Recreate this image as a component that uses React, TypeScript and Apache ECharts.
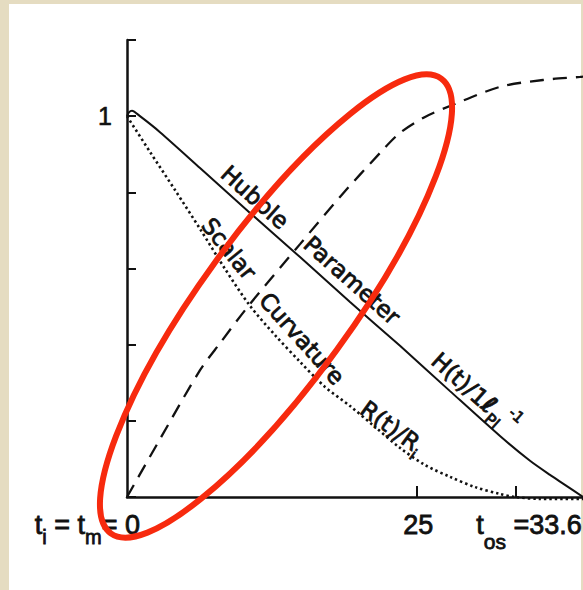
import React, { useEffect, useRef } from 'react';
import * as echarts from 'echarts';

// Hubble parameter H(t) in units of 1 l_Pl^-1 (solid)
const hubbleT = [0, 0.17, 0.43, 1.12, 2.85, 6.31, 10.63, 14.95, 19.27, 23.59, 27.91, 32.23, 34.82, 36.55, 37.84, 39.4];
const hubbleV = [1.0, 1.01, 1.014, 1.0, 0.958, 0.864, 0.746, 0.63, 0.512, 0.397, 0.278, 0.16, 0.095, 0.058, 0.032, 0];

// Scalar curvature R(t)/R_i (dotted)
const curvatureT = [0, 1.99, 4.15, 6.31, 8.47, 10.63, 12.79, 14.95, 17.11, 19.27, 21.43, 23.59, 25.75, 27.91, 30.07, 32.23, 33.52, 35.68, 39.4];
const curvatureV = [1.0, 0.906, 0.806, 0.704, 0.599, 0.502, 0.425, 0.355, 0.289, 0.239, 0.184, 0.129, 0.084, 0.053, 0.026, 0.008, 0, -0.005, -0.005];

// Rising dashed curve
const expansionT = [0, 2.85, 6.31, 8.04, 10.63, 14.95, 18.4, 21.85, 23.58, 25.75, 28.17, 32.23, 35.94, 39.14, 39.4];
const expansionV = [0, 0.152, 0.333, 0.404, 0.507, 0.664, 0.788, 0.903, 0.956, 0.998, 1.03, 1.077, 1.095, 1.103, 1.104];

// Axis range and tick values
const xMax = 39.4;
const yMax = 1.2;
const yTickStep = 0.2;
const xTickValues = [25, 33.6];
const xLabelValues = [0, 25, 33.6];
const xLabelTexts = ['{v|t}{s|i}{v| = t}{s|m}{v|= 0}', '{v|25}', '{w|t}{d|os}{w| =33.6}'];
const yLabelValues = [1];
const yLabelTexts = ['1'];

// Labels written along the curves
const curveLabelTexts = ['Hubble', 'Parameter', '{m|H(t)/1}{l|ℓ}{sub|Pl}{sup|-1}', 'Scalar', 'Curvature', '{m|R(t)/R}{sub|i}'];
const curveLabelT = [11.06, 19.44, 30.07, 8.81, 15.12, 22.9];
const curveLabelV = [0.787, 0.569, 0.274, 0.652, 0.416, 0.184];
const curveLabelAngle = [-41.7, -41.7, -41.7, -51, -48, -36];

const INK = '#111111';
const CURVE_FONT = '"DejaVu Sans", sans-serif';
const AXIS_FONT = '"Liberation Sans", Arial, sans-serif';

const pairs = (xs: number[], ys: number[]) => xs.map((x, i) => [x, ys[i]]);

export default function App() {
  const ref = useRef<HTMLDivElement>(null);

  useEffect(() => {
    const el = ref.current;
    if (!el) return;
    const chart = echarts.init(el, null, { renderer: 'svg' });

    chart.setOption({
      animation: false,
      backgroundColor: 'transparent',
      grid: { left: 127, right: 0, top: 40, bottom: 93, containLabel: false },
      xAxis: {
        type: 'value',
        min: 0,
        max: xMax,
        axisLine: { show: true, lineStyle: { color: INK, width: 2.5 } },
        axisTick: {
          show: true,
          customValues: xTickValues,
          inside: true,
          length: 11,
          lineStyle: { color: INK, width: 2 },
        },
        axisLabel: { show: false },
        splitLine: { show: false },
      },
      yAxis: {
        type: 'value',
        min: 0,
        max: yMax,
        interval: yTickStep,
        axisLine: { show: true, lineStyle: { color: INK, width: 2.5 } },
        axisTick: { show: true, inside: true, length: 9, lineStyle: { color: INK, width: 2 } },
        axisLabel: {
          show: true,
          margin: 15,
          color: INK,
          fontSize: 25,
          fontFamily: AXIS_FONT,
          textBorderColor: INK,
          textBorderWidth: 0.6,
          formatter: (val: number) => {
            const idx = yLabelValues.findIndex((y) => Math.abs(y - val) < 1e-9);
            return idx >= 0 ? yLabelTexts[idx] : '';
          },
        },
        splitLine: { show: false },
      },
      series: [
        {
          type: 'line',
          data: pairs(expansionT, expansionV),
          showSymbol: false,
          symbol: 'none',
          smooth: 0.3,
          clip: false,
          lineStyle: { color: INK, width: 2.3, type: [14, 9] },
          z: 3,
        },
        {
          type: 'line',
          data: pairs(hubbleT, hubbleV),
          showSymbol: false,
          symbol: 'none',
          smooth: 0.25,
          clip: false,
          lineStyle: { color: INK, width: 2, type: 'solid' },
          z: 3,
        },
        {
          type: 'line',
          data: pairs(curvatureT, curvatureV),
          showSymbol: false,
          symbol: 'none',
          smooth: 0.3,
          clip: false,
          lineStyle: { color: INK, width: 2.6, type: [2.4, 3] },
          z: 3,
        },
      ],
    });

    const toPx = (t: number, v: number) =>
      chart.convertToPixel({ gridIndex: 0 }, [t, v]) as number[];

    const graphics: any[] = [];
    const ink = { fill: INK, stroke: INK, lineWidth: 0.8 };

    // curve annotations
    curveLabelTexts.forEach((text, i) => {
      const [x, y] = toPx(curveLabelT[i], curveLabelV[i]);
      graphics.push({
        type: 'text',
        x,
        y,
        rotation: (curveLabelAngle[i] * Math.PI) / 180,
        z: 10,
        style: {
          text,
          fontSize: 23,
          fontFamily: CURVE_FONT,
          ...ink,
          align: 'center',
          verticalAlign: 'middle',
          textAlign: 'center',
          textVerticalAlign: 'middle',
          rich: {
            m: { fontSize: 23, fontFamily: CURVE_FONT, lineHeight: 36, ...ink },
            l: { fontSize: 24, fontFamily: CURVE_FONT, fontWeight: 'bold', lineHeight: 36, ...ink },
            sub: { fontSize: 16, fontFamily: CURVE_FONT, verticalAlign: 'bottom', ...ink },
            sup: { fontSize: 15, fontFamily: CURVE_FONT, verticalAlign: 'top', ...ink },
          },
        },
      });
    });

    // x-axis labels
    const xLabelAlign = ['right', 'center', 'right'];
    const xLabelDx = [13, 2, 66];
    xLabelValues.forEach((val, i) => {
      const [x, y] = toPx(val, 0);
      graphics.push({
        type: 'text',
        x: x + xLabelDx[i],
        y: y + 28,
        z: 10,
        style: {
          text: xLabelTexts[i],
          fontSize: 27,
          fontFamily: AXIS_FONT,
          ...ink,
          align: xLabelAlign[i],
          verticalAlign: 'middle',
          textAlign: xLabelAlign[i],
          textVerticalAlign: 'middle',
          rich: {
            v: { fontSize: 27, fontFamily: AXIS_FONT, lineHeight: 44, ...ink },
            s: { fontSize: 20, fontFamily: AXIS_FONT, verticalAlign: 'bottom', ...ink },
            w: { fontSize: 27, fontFamily: AXIS_FONT, lineHeight: 54, ...ink },
            d: { fontSize: 21, fontFamily: AXIS_FONT, verticalAlign: 'bottom', ...ink },
          },
        },
      });
    });

    // red ring drawn over the figure
    graphics.push({
      type: 'ellipse',
      x: 276,
      y: 306,
      rotation: (54 * Math.PI) / 180,
      z: 20,
      shape: { cx: 0, cy: 0, rx: 281, ry: 75 },
      style: { fill: 'none', stroke: '#f72a0e', lineWidth: 6 },
    });

    chart.setOption({ graphic: graphics });

    return () => chart.dispose();
  }, []);

  return (
    <div
      style={{
        position: 'fixed',
        left: 0,
        top: 0,
        width: 583,
        height: 590,
        background: '#e5dcc1',
        overflow: 'hidden',
      }}
    >
      <div style={{ position: 'absolute', left: 9, top: 4, width: 572, height: 586, background: '#ffffff' }} />
      <div ref={ref} style={{ position: 'absolute', left: 0, top: 0, width: 583, height: 590 }} />
    </div>
  );
}
